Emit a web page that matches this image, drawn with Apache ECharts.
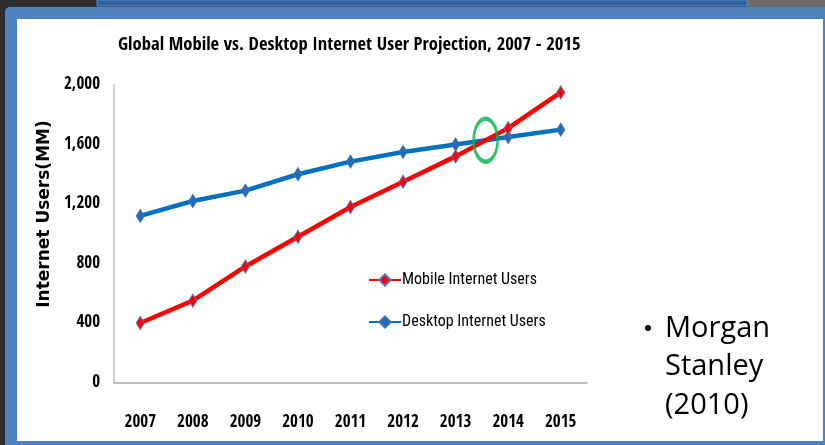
<!DOCTYPE html>
<html>
<head>
<meta charset="utf-8">
<script src="https://cdn.jsdelivr.net/npm/echarts@6/dist/echarts.min.js"></script>
<style>
html,body{margin:0;padding:0;background:#2d2d2d;}
#chart{width:825px;height:445px;}
</style>
</head>
<body>
<div id="chart"></div>
<script>
const years = ['2007','2008','2009','2010','2011','2012','2013','2014','2015'];
const mobileUsers = [400, 550, 780, 980, 1180, 1350, 1520, 1710, 1950];
const desktopUsers = [1120, 1220, 1290, 1400, 1485, 1550, 1600, 1650, 1700];
const yTicks = [0, 400, 800, 1200, 1600, 2000];
const titleText = 'Global Mobile vs. Desktop Internet User Projection, 2007 - 2015';
const yAxisName = 'Internet Users(MM)';
const seriesNames = ['Mobile Internet Users', 'Desktop Internet Users'];
const sourceLines = ['Morgan', 'Stanley', '(2010)'];

// crossing point of the two series (for the highlight ellipse)
function crossing(a, b) {
  for (let i = 0; i < a.length - 1; i++) {
    const d0 = a[i] - b[i], d1 = a[i + 1] - b[i + 1];
    if (d0 <= 0 && d1 > 0) {
      const t = d0 / (d0 - d1);
      return [i + t, b[i] + (b[i + 1] - b[i]) * t];
    }
  }
  return null;
}
const cross = crossing(mobileUsers, desktopUsers);

const narrow = "'Open Sans Condensed','Roboto Condensed',sans-serif";
const narrowReg = "'Roboto Condensed','Open Sans Condensed',sans-serif";
const chart = echarts.init(document.getElementById('chart'), null, {renderer: 'canvas'});

const option = {
  backgroundColor: '#2d2d2d',
  animation: false,
  graphic: [
    {type: 'rect', z: -10, shape: {x: 747, y: 0, width: 78, height: 9}, style: {fill: '#6b6b6b'}},
    {type: 'rect', z: -9, shape: {x: 5, y: 7, width: 825, height: 445, r: 5}, style: {fill: '#4f81bd'}},
    {type: 'rect', z: -9, shape: {x: 97, y: 0, width: 650, height: 6}, style: {fill: '#2f5f9c', stroke: '#5b8bc8', lineWidth: 1}},
    {type: 'rect', z: -8, shape: {x: 17, y: 19, width: 806, height: 422}, style: {fill: '#ffffff'}},
    {type: 'circle', z: 10, shape: {cx: 648, cy: 328, r: 3}, style: {fill: '#000'}},
    {type: 'text', z: 10, left: 665, top: 309, style: {text: sourceLines.join('\n'), fontFamily: "'Open Sans',sans-serif", fontSize: 29, lineHeight: 38.5, fill: '#000'}},
    {type: 'text', z: 10, x: 45, y: 214, rotation: Math.PI / 2,
      style: {text: yAxisName, fontFamily: "'DejaVu Sans',sans-serif", fontWeight: 'bold', fontSize: 17, fill: '#000', align: 'center', verticalAlign: 'middle'}}
  ],
  title: {
    text: titleText,
    left: 113,
    top: 31,
    textStyle: {fontFamily: narrow, fontWeight: 'bold', fontSize: 18.6, color: '#000'}
  },
  legend: {
    orient: 'vertical',
    left: 363,
    top: 267,
    itemWidth: 32,
    itemHeight: 14,
    itemGap: 26,
    data: seriesNames,
    textStyle: {fontFamily: narrowReg, fontSize: 16, color: '#000', padding: [0, 0, 0, -4]}
  },
  grid: {left: 114, right: 238, top: 85, bottom: 62.5, containLabel: false},
  xAxis: [{
    type: 'category',
    data: years,
    boundaryGap: true,
    axisLine: {lineStyle: {color: '#a6a6a6', width: 1.5}},
    axisTick: {show: false},
    axisLabel: {fontFamily: narrow, fontWeight: 'bold', fontSize: 17, color: '#000', margin: 32},
    splitLine: {show: false}
  }, {
    // hidden index axis aligned with the category bands, used to place the crossing marker
    type: 'value',
    min: -0.5,
    max: years.length - 0.5,
    show: false
  }],
  yAxis: {
    type: 'value',
    min: yTicks[0],
    max: yTicks[yTicks.length - 1],
    interval: yTicks[1] - yTicks[0],
    axisLine: {show: true, onZero: false, lineStyle: {color: '#bfbfbf', width: 1.5}},
    axisTick: {show: false},
    splitLine: {show: false},
    axisLabel: {
      fontFamily: narrow, fontWeight: 'bold', fontSize: 17, color: '#000', margin: 14,
      formatter: v => v.toLocaleString('en-US')
    }
  },
  series: [
    {
      name: seriesNames[0],
      type: 'line',
      data: mobileUsers,
      symbol: 'diamond',
      symbolSize: [8, 13],
      lineStyle: {color: '#ff0000', width: 4.5},
      itemStyle: {color: '#ff0000', borderColor: '#5a6fb0', borderWidth: 1},
      z: 3
    },
    {
      name: seriesNames[1],
      type: 'line',
      data: desktopUsers,
      symbol: 'diamond',
      symbolSize: [8, 13],
      lineStyle: {color: '#0070c0', width: 4.5},
      itemStyle: {color: '#1f6cb8', borderColor: '#4a6fa8', borderWidth: 1},
      z: 2
    },
    {
      name: 'crossing',
      type: 'scatter',
      xAxisIndex: 1,
      silent: true,
      data: cross ? [cross] : [],
      symbol: 'circle',
      symbolSize: [24, 43],
      itemStyle: {color: 'rgba(0,0,0,0)', borderColor: '#00b050', borderWidth: 3.5},
      z: 5
    }
  ]
};
chart.setOption(option);
</script>
</body>
</html>
